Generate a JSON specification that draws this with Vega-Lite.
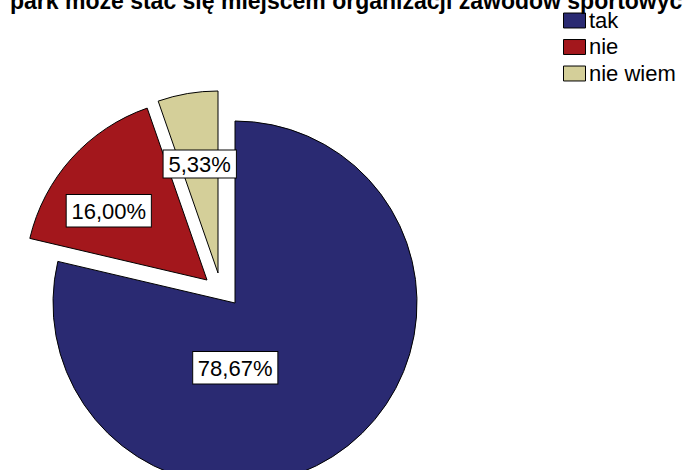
{
  "$schema": "https://vega.github.io/schema/vega-lite/v6.json",
  "width": 683,
  "height": 470,
  "autosize": "none",
  "padding": 0,
  "background": "white",
  "config": {"view": {"stroke": null}, "font": "Liberation Sans"},
  "title": {
    "text": "park może stać się miejscem organizacji zawodów sportowych",
    "anchor": "start",
    "orient": "top",
    "frame": "group",
    "offset": 0,
    "baseline": "alphabetic",
    "dx": 10,
    "dy": 32,
    "fontSize": 23,
    "fontWeight": "bold",
    "font": "Liberation Sans",
    "color": "black"
  },
  "data": {
    "values": [
      {"category": "tak", "value": 78.67, "label": "78,67%"},
      {"category": "nie", "value": 16.00, "label": "16,00%"},
      {"category": "nie wiem", "value": 5.33, "label": "5,33%"}
    ]
  },
  "encoding": {
    "theta": {"field": "value", "type": "quantitative", "stack": true},
    "order": {"field": "value", "type": "quantitative", "sort": "descending"},
    "detail": {"field": "category", "type": "nominal"}
  },
  "layer": [
    {
      "mark": {"type": "arc", "x": 235, "y": 303, "outerRadius": 182, "stroke": "black", "strokeWidth": 1},
      "encoding": {
        "color": {
          "field": "category", "type": "nominal",
          "scale": {"domain": ["tak", "nie", "nie wiem"], "range": ["#2a2a72", "#a3171c", "#d4cf99"]},
          "legend": {
            "title": null, "orient": "none", "legendX": 563, "legendY": 9,
            "symbolType": "M-1,-0.68H1V0.68H-1Z", "symbolSize": 484,
            "symbolStrokeColor": "black", "symbolStrokeWidth": 1, "symbolOpacity": 1,
            "labelFontSize": 22, "labelFont": "Liberation Sans", "labelColor": "black",
            "labelOffset": 3, "rowPadding": 3.5, "padding": 0
          }
        },
        "opacity": {"condition": {"test": "datum.category === 'tak'", "value": 1}, "value": 0}
      }
    },
    {
      "mark": {"type": "arc", "x": 207, "y": 280, "outerRadius": 182, "stroke": "black", "strokeWidth": 1},
      "encoding": {
        "color": {"field": "category", "type": "nominal"},
        "opacity": {"condition": {"test": "datum.category === 'nie'", "value": 1}, "value": 0}
      }
    },
    {
      "mark": {"type": "arc", "x": 218, "y": 273, "outerRadius": 182, "stroke": "black", "strokeWidth": 1},
      "encoding": {
        "color": {"field": "category", "type": "nominal"},
        "opacity": {"condition": {"test": "datum.category === 'nie wiem'", "value": 1}, "value": 0}
      }
    },
    {
      "mark": {"type": "text", "x": 235, "y": 303, "radius": 84, "xOffset": -52, "dy": -12, "align": "center", "baseline": "alphabetic", "font": "DejaVu Sans", "fontSize": 108, "fill": "white", "stroke": "black", "strokeWidth": 1},
      "encoding": {
        "text": {"value": "▂"},
        "opacity": {"condition": {"test": "datum.category === 'tak'", "value": 1}, "value": 0}
      }
    },
    {
      "mark": {"type": "text", "x": 235, "y": 303, "radius": 84, "xOffset": -52, "align": "center", "baseline": "middle", "fontSize": 22, "fill": "black"},
      "encoding": {
        "text": {"field": "label"},
        "opacity": {"condition": {"test": "datum.category === 'tak'", "value": 1}, "value": 0}
      }
    },
    {
      "mark": {"type": "text", "x": 207, "y": 280, "radius": 120, "xOffset": -9, "yOffset": 12, "dy": -12, "align": "center", "baseline": "alphabetic", "font": "DejaVu Sans", "fontSize": 108, "fill": "white", "stroke": "black", "strokeWidth": 1},
      "encoding": {
        "text": {"value": "▂"},
        "opacity": {"condition": {"test": "datum.category === 'nie'", "value": 1}, "value": 0}
      }
    },
    {
      "mark": {"type": "text", "x": 207, "y": 280, "radius": 120, "xOffset": -9, "yOffset": 12, "align": "center", "baseline": "middle", "fontSize": 22, "fill": "black"},
      "encoding": {
        "text": {"field": "label"},
        "opacity": {"condition": {"test": "datum.category === 'nie'", "value": 1}, "value": 0}
      }
    },
    {
      "mark": {"type": "text", "x": 218, "y": 273, "radius": 110, "dy": -10, "align": "center", "baseline": "alphabetic", "font": "DejaVu Sans", "fontSize": 93, "fill": "white", "stroke": "black", "strokeWidth": 1},
      "encoding": {
        "text": {"value": "▂"},
        "opacity": {"condition": {"test": "datum.category === 'nie wiem'", "value": 1}, "value": 0}
      }
    },
    {
      "mark": {"type": "text", "x": 218, "y": 273, "radius": 110, "align": "center", "baseline": "middle", "fontSize": 22, "fill": "black"},
      "encoding": {
        "text": {"field": "label"},
        "opacity": {"condition": {"test": "datum.category === 'nie wiem'", "value": 1}, "value": 0}
      }
    }
  ]
}
